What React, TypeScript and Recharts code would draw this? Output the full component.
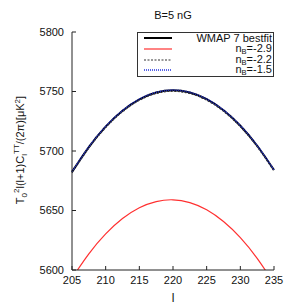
import { LineChart, Line, XAxis, YAxis } from 'recharts';

const ells = [205, 207.5, 210, 212.5, 215, 217.5, 220, 222.5, 225, 227.5, 230, 232.5, 235];
const wmap7 = [5682.4, 5703.3, 5720.5, 5733.8, 5743.4, 5749.1, 5751.0, 5749.1, 5743.5, 5734.2, 5721.2, 5704.4, 5684.0];
const nbM29 = [5593.1, 5613.6, 5630.3, 5643.2, 5652.3, 5657.5, 5659.0, 5656.6, 5650.6, 5640.7, 5627.2, 5609.8, 5588.8];
const nbM22 = [5681.6, 5702.5, 5719.7, 5733.0, 5742.6, 5748.3, 5750.2, 5748.3, 5742.7, 5733.4, 5720.4, 5703.6, 5683.2];
const nbM15 = [5682.6, 5703.5, 5720.7, 5734.0, 5743.6, 5749.3, 5751.2, 5749.3, 5743.7, 5734.4, 5721.4, 5704.6, 5684.2];

const xTicks = [205, 210, 215, 220, 225, 230, 235];
const yTicks = [5600, 5650, 5700, 5750, 5800];

const data = ells.map((l, i) => ({
  l,
  wmap7: wmap7[i],
  nbM29: nbM29[i],
  nbM22: nbM22[i],
  nbM15: nbM15[i],
}));

const FONT = '"Liberation Sans", Arial, sans-serif';
const tickStyle = { fontSize: 11, fill: '#111', fontFamily: FONT };

const Sub = ({ children }: { children: string }) => (
  <span style={{ fontSize: 7.5, position: 'relative', top: 2 }}>{children}</span>
);

const legendRows = [
  { key: 'wmap', color: '#000', dash: undefined, width: 2, label: <>WMAP 7 bestfit</> },
  { key: 'm29', color: '#ff3030', dash: undefined, width: 1.2, label: <>n<Sub>B</Sub>=-2.9</> },
  { key: 'm22', color: '#333', dash: '2 1.5', width: 1.2, label: <>n<Sub>B</Sub>=-2.2</> },
  { key: 'm15', color: '#2233dd', dash: '1 1', width: 1.5, label: <>n<Sub>B</Sub>=-1.5</> },
];

const LegendBox = () => (
  <div
    style={{
      position: 'absolute',
      top: 32,
      left: 137,
      border: '1px solid #333',
      background: '#fff',
      width: 137,
      height: 45,
      boxSizing: 'border-box',
      fontFamily: FONT,
      fontSize: 11,
      color: '#111',
      paddingTop: 0,
    }}
  >
    {legendRows.map((r) => (
      <div key={r.key} style={{ display: 'flex', alignItems: 'center', height: 10.7, lineHeight: '10px' }}>
        <svg width={40} height={8} style={{ flex: 'none' }}>
          <line x1={6} x2={34} y1={4} y2={4} stroke={r.color} strokeWidth={r.width} strokeDasharray={r.dash} />
        </svg>
        <span style={{ flex: 1, textAlign: 'right', paddingRight: 1, whiteSpace: 'nowrap' }}>{r.label}</span>
      </div>
    ))}
  </div>
);

const YLabel = () => (
  <text
    transform="translate(24,150) rotate(-90)"
    textAnchor="middle"
    style={{ fontSize: 11, fontFamily: FONT, fill: '#111' }}
  >
    <tspan>T</tspan>
    <tspan dy={3} fontSize={8}>0</tspan>
    <tspan dy={-8} fontSize={8}>2</tspan>
    <tspan dy={5}>l(l+1)C</tspan>
    <tspan dy={3} fontSize={8}>l</tspan>
    <tspan dy={-8} fontSize={8}>TT</tspan>
    <tspan dy={5}>/(2π)[μK</tspan>
    <tspan dy={-4} fontSize={8}>2</tspan>
    <tspan dy={4}>]</tspan>
  </text>
);

export default function App() {
  return (
    <div style={{ position: 'absolute', left: 0, top: 0, width: 291, height: 305, background: '#fff' }}>
      <div
        style={{
          position: 'absolute',
          top: 9,
          left: 0,
          width: 346,
          textAlign: 'center',
          fontFamily: FONT,
          fontSize: 11,
          color: '#111',
        }}
      >
        B=5 nG
      </div>
      <svg width={291} height={305} style={{ position: 'absolute', left: 0, top: 0, pointerEvents: 'none' }}>
        <YLabel />
      </svg>
      <LineChart width={291} height={305} data={data} margin={{ top: 32, right: 17, left: 0, bottom: 0 }}>
        <XAxis
          xAxisId="bottom"
          dataKey="l"
          type="number"
          domain={[205, 235]}
          ticks={xTicks}
          height={35}
          tickSize={-4}
          tickMargin={10}
          tick={tickStyle}
          stroke="#222"
          label={{ value: 'l', position: 'insideBottom', offset: 3, style: { ...tickStyle, fontSize: 12 } }}
        />
        <XAxis
          xAxisId="top"
          orientation="top"
          dataKey="l"
          type="number"
          domain={[205, 235]}
          ticks={xTicks}
          height={0}
          tickSize={-4}
          tick={false}
          stroke="#222"
        />
        <YAxis
          yAxisId="left"
          domain={[5600, 5800]}
          ticks={yTicks}
          allowDataOverflow
          width={72}
          tickSize={-4}
          tickMargin={12}
          tick={tickStyle}
          stroke="#222"
        />
        <YAxis
          yAxisId="right"
          orientation="right"
          domain={[5600, 5800]}
          ticks={yTicks}
          allowDataOverflow
          width={0}
          tickSize={-4}
          tick={false}
          stroke="#222"
        />
        <Line xAxisId="bottom" yAxisId="left" type="natural" dataKey="wmap7" stroke="#000" strokeWidth={2} dot={false} isAnimationActive={false} />
        <Line xAxisId="bottom" yAxisId="left" type="natural" dataKey="nbM29" stroke="#ff3030" strokeWidth={1.2} dot={false} isAnimationActive={false} />
        <Line xAxisId="bottom" yAxisId="left" type="natural" dataKey="nbM22" stroke="#333" strokeWidth={1.2} strokeDasharray="2 1.5" dot={false} isAnimationActive={false} />
        <Line xAxisId="bottom" yAxisId="left" type="natural" dataKey="nbM15" stroke="#2233dd" strokeWidth={1.5} strokeDasharray="1 1" dot={false} isAnimationActive={false} />
      </LineChart>
      <LegendBox />
    </div>
  );
}
